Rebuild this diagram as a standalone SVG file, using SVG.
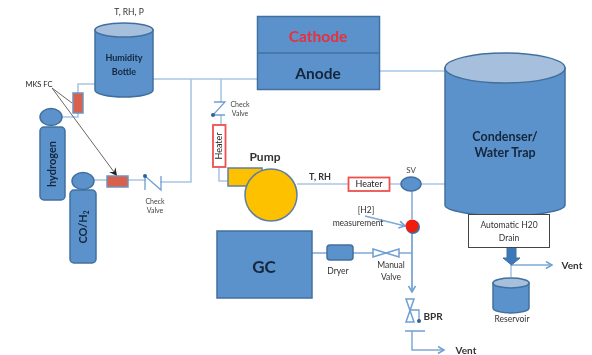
<svg xmlns="http://www.w3.org/2000/svg" width="592" height="355" viewBox="0 0 592 355">
<style>
text{font-family:Lato,"Liberation Sans",Arial,sans-serif;text-anchor:middle;fill:#333}
.b{fill:#5b92cb;stroke:#41709f;stroke-width:1.5}
.t{fill:#a5bfdd;stroke:#41709f;stroke-width:1.5}
.l{fill:none;stroke:#a9c6e6;stroke-width:1.6}
.m{fill:none;stroke:#7fa9d8;stroke-width:1.5}
.s{font-size:7px;fill:#444}
.n{font-size:8.500px}
.h{font-weight:bold;fill:#12263c}
.r{fill:#d9604e;stroke:#6f93bd;stroke-width:1.5}
.ht{fill:#fff;stroke:#ee4f4f;stroke-width:1.8}
</style>
<defs>
<filter id="soft" x="0" y="0" width="100%" height="100%"><feGaussianBlur stdDeviation="0.45"/></filter>
<marker id="o" markerWidth="9" markerHeight="9" refX="7" refY="4" orient="auto" markerUnits="userSpaceOnUse"><path d="M1 .5L7 4L1 7.500" fill="none" stroke="#6f9fd2" stroke-width="1.500"/></marker>
<marker id="g" markerWidth="10" markerHeight="10" refX="8" refY="4.500" orient="auto" markerUnits="userSpaceOnUse"><path d="M0 .5L8 4.500L0 8.500L3 4.500Z" fill="#222"/></marker>
</defs>
<g filter="url(#soft)">
<g id="connectors">
<path class="l" d="M153 79H257M191 79V182H160M128 180H146M94 180H107M379 71H445M221 79V102M221 115V124M219 167V181H228M297 184H348M390 184H401M421 184H445M78 93V84H95M62 117H78V113"/>
<path class="m" d="M412 191V219M412 233V291M312 253H327M353 253H373M399 253H412"/>
<path class="m" d="M412 233V292" marker-end="url(#o)"/>
<path class="m" d="M412 331V350H444" marker-end="url(#o)"/>
<path class="m" d="M365 216L405 226" marker-end="url(#o)"/>
<path d="M52 88L72 103M52 88L117 176" fill="none" stroke="#666" stroke-width="1" marker-end="url(#g)"/>
<path class="l" d="M511 262V277"/>
<path class="m" d="M511 265H552" marker-end="url(#o)"/>
<path d="M507 247H516V258H520L511.500 265L503 258H507Z" fill="#3b78b8" stroke="#41709f"/>
<path d="M145 176V190M145 176L161 190V176" fill="none" stroke="#6f9fd2" stroke-width="1.300"/>
<circle cx="145" cy="176" r="2" fill="#2f6299"/>
<path d="M214 102H225L213 115H225" fill="none" stroke="#6f9fd2" stroke-width="1.300"/>
<circle cx="213" cy="115" r="2" fill="#2f6299"/>
<path d="M373 249L399 257V249L373 257Z" fill="#fff" stroke="#6f9fd2" stroke-width="1.500"/>
</g>
<g id="humidity-bottle">
<path class="b" d="M95 30V90C95 94 108 97 124 97S153 94 153 90V30Z"/>
<ellipse class="t" cx="124" cy="30" rx="29" ry="7"/>
<text class="h" x="124" y="61" font-size="9">Humidity</text>
<text class="h" x="124" y="75" font-size="9">Bottle</text>
</g>
<g id="label-t-rh-p"><text class="n" x="129" y="15" font-size="9">T, RH, P</text></g>
<g id="mks-fc"><text class="s" x="39" y="87" style="font-size:7.500px;fill:#222">MKS FC</text></g>
<g id="mfc-top"><rect class="r" x="73" y="93" width="10" height="20"/></g>
<g id="hydrogen">
<ellipse class="b" cx="51" cy="117" rx="11" ry="8.500"/>
<rect class="b" x="40" y="127" width="25" height="73" rx="4"/>
<text class="h" font-size="11" transform="translate(56 164) rotate(-90)">hydrogen</text>
</g>
<g id="co-h2">
<ellipse class="b" cx="83" cy="181" rx="11" ry="8.500"/>
<rect class="b" x="70" y="190" width="26" height="73" rx="4"/>
<text class="h" font-size="11" transform="translate(87 227) rotate(-90)">CO/H<tspan font-size="6.500" dy="2">2</tspan></text>
</g>
<g id="mfc-bottom"><rect class="r" x="107" y="176" width="21" height="11"/></g>
<g id="check-valve-1-label"><text class="s" x="155" y="204">Check</text><text class="s" x="155" y="213">Valve</text></g>
<g id="check-valve-2-label"><text class="s" x="240" y="107">Check</text><text class="s" x="240" y="116">Valve</text></g>
<g id="cell">
<rect class="b" x="257.500" y="16.500" width="122" height="73"/>
<path d="M257.500 53H379.500" stroke="#41709f" stroke-width="1.500"/>
<text x="318" y="42" font-size="15.500" font-weight="bold" style="fill:#e8303a">Cathode</text>
<text class="h" x="318" y="79" font-size="15.500">Anode</text>
</g>
<g id="condenser">
<path class="b" d="M445 68V205C445 211 475 216 505 216S565 211 565 205V68Z"/>
<ellipse class="t" cx="505" cy="68" rx="60" ry="15"/>
<text class="h" x="505" y="141" font-size="12.500">Condenser/</text>
<text class="h" x="505" y="157" font-size="12.500">Water Trap</text>
</g>
<g id="heater-vertical">
<rect class="ht" x="213" y="125" width="12.500" height="42"/>
<text font-size="9" transform="translate(222 146) rotate(-90)" style="fill:#222">Heater</text>
</g>
<g id="pump">
<rect x="228" y="168" width="34" height="18" fill="#fdc100" stroke="#5f7f9f" stroke-width="1.500"/>
<circle cx="271" cy="195" r="26" fill="#fdc100" stroke="#5f7f9f" stroke-width="1.500"/>
<text x="265" y="161" font-size="12" font-weight="bold">Pump</text>
</g>
<g id="label-t-rh"><text x="320" y="180" font-size="9" font-weight="bold">T, RH</text></g>
<g id="heater-horizontal">
<rect class="ht" x="348.500" y="177.500" width="41" height="13.500"/>
<text x="369" y="187" font-size="9" style="fill:#222">Heater</text>
</g>
<g id="sv">
<ellipse class="b" cx="411" cy="184" rx="10" ry="7"/>
<text class="s" x="411" y="173" style="font-size:8px">SV</text>
</g>
<g id="h2-measurement">
<circle cx="413" cy="227" r="7" fill="#41709f"/>
<circle cx="412" cy="226" r="6.500" fill="#f01a10"/>
<text class="n" x="366" y="213">[H2]</text>
<text class="n" x="358" y="226">measurement</text>
</g>
<g id="gc">
<rect class="b" x="217" y="231" width="95" height="67"/>
<text class="h" x="264" y="273" font-size="17">GC</text>
</g>
<g id="dryer">
<rect class="b" x="327" y="245" width="26" height="15" rx="3"/>
<text class="n" x="338" y="274">Dryer</text>
</g>
<g id="manual-valve"><text class="n" x="391" y="268">Manual</text><text class="n" x="391" y="280">Valve</text></g>
<g id="bpr">
<path d="M406 299H414L406 322H414Z" fill="#fff" stroke="#6f9fd2" stroke-width="1.500"/>
<path d="M410 310H419V321M405 331H425" fill="none" stroke="#6f9fd2" stroke-width="1.300"/>
<circle cx="419" cy="321" r="2" fill="#2f6299"/>
<text x="433" y="320" font-size="10" font-weight="bold">BPR</text>
</g>
<g id="vent-1"><text x="466" y="354" font-size="10" font-weight="bold">Vent</text></g>
<g id="drain">
<rect x="468.500" y="214.500" width="81" height="33" fill="#fff" stroke="#444"/>
<text class="n" x="509" y="228">Automatic H20</text>
<text class="n" x="509" y="241">Drain</text>
</g>
<g id="vent-2"><text x="572" y="269" font-size="10" font-weight="bold">Vent</text></g>
<g id="reservoir">
<path class="b" d="M493 283V308C493 311 502 313 511 313S529 311 529 308V283Z"/>
<ellipse class="t" cx="511" cy="283" rx="18" ry="5"/>
<text class="n" x="512" y="322">Reservoir</text>
</g>
</g>
</svg>
